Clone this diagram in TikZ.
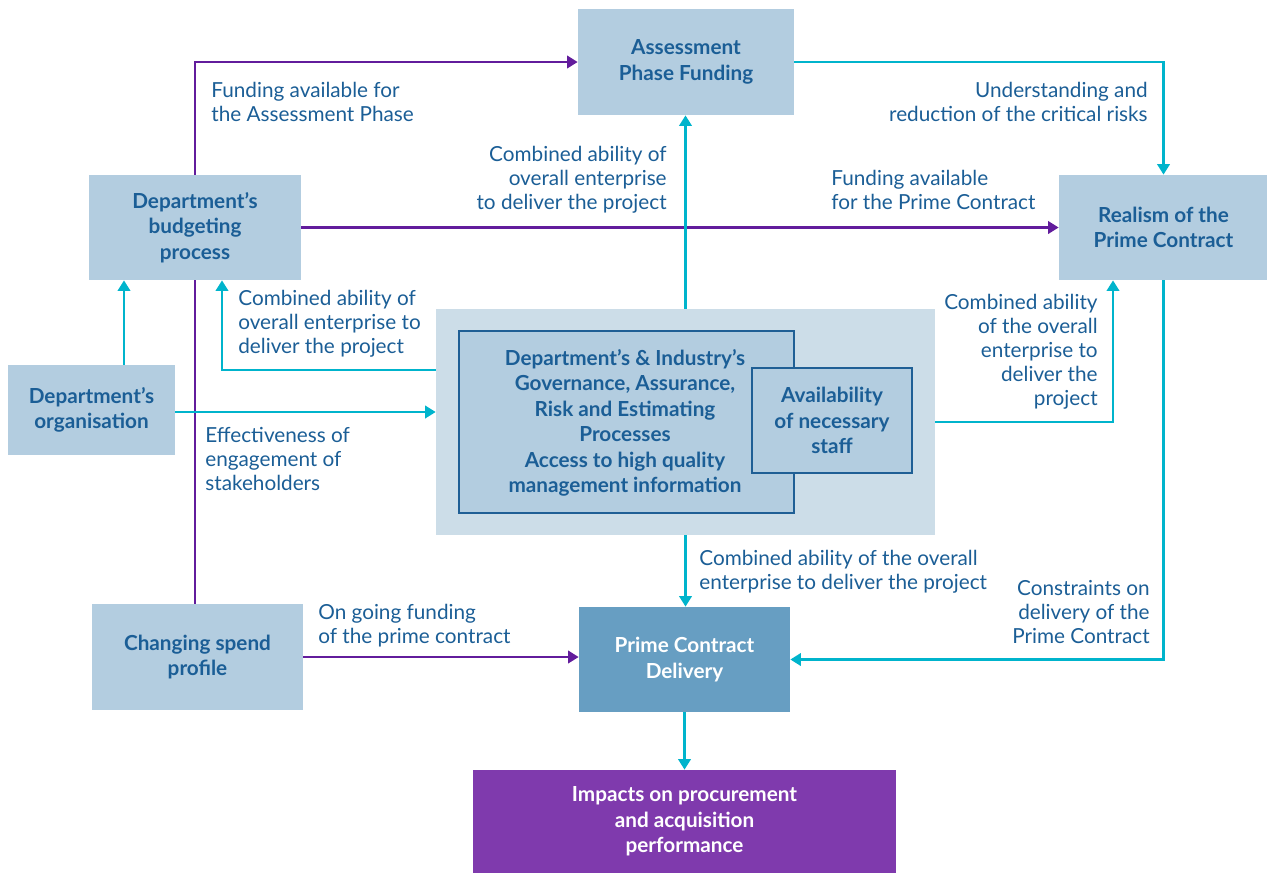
\documentclass[tikz,border=0pt]{standalone}
\usepackage{fontspec}
\setmainfont{Lato}
\usetikzlibrary{arrows.meta}
\definecolor{boxfill}{HTML}{B3CDE0}
\definecolor{panelfill}{HTML}{CCDDE8}
\definecolor{textblue}{HTML}{1B5E96}
\definecolor{edgeblue}{HTML}{1F5F95}
\definecolor{primefill}{HTML}{679EC2}
\definecolor{impfill}{HTML}{7F3AAD}
\definecolor{purpline}{HTML}{621C9C}
\definecolor{cyanline}{HTML}{00B4CC}
\tikzset{
  box/.style={fill=boxfill, draw=none, inner sep=0pt, align=center,
    text=textblue, font=\fontsize{11.8}{14.5}\selectfont\bfseries},
  framed/.style={box, draw=edgeblue, line width=0.8pt},
  lbl/.style={inner sep=0pt, text=textblue, font=\fontsize{11.8}{13.6}\selectfont},
  flowp/.style={draw=purpline, line width=1.6pt, -{Triangle[length=6pt,width=7pt]}},
  linkp/.style={draw=purpline, line width=1.6pt},
  flowc/.style={draw=cyanline, line width=1.6pt, -{Triangle[length=6pt,width=7pt]}}
}
\begin{document}
\begin{tikzpicture}[x=0.02cm,y=-0.02cm]
\useasboundingbox (0,0) rectangle (1267,873);

% boxes
\node[box, minimum width=4.32cm, minimum height=2.12cm] (asm) at (686,62)
  {Assessment\\Phase Funding};
\node[box, minimum width=4.24cm, minimum height=2.10cm] (bud) at (195,227.5)
  {Department’s\\budgeting\\process};
\node[box, minimum width=4.18cm, minimum height=2.10cm] (real) at (1163.5,227.5)
  {Realism of the\\Prime Contract};
\node[box, minimum width=3.34cm, minimum height=1.80cm] (org) at (91.5,410)
  {Department’s\\organisation};
\node[fill=panelfill, inner sep=0pt, minimum width=9.98cm, minimum height=4.52cm] (panel) at (685.5,422) {};
\node[framed, minimum width=6.70cm, minimum height=3.64cm] (gov) at (626.5,422) {};
\node[box, fill=none] (govtext) at (625,423)
  {Department’s \& Industry’s\\Governance, Assurance,\\Risk and Estimating\\Processes\\Access to high quality\\management information};
\node[framed, minimum width=3.20cm, minimum height=2.10cm] (avail) at (832,420.5)
  {Availability\\of necessary\\staff};
\node[box, minimum width=4.22cm, minimum height=2.12cm] (spend) at (197.5,657)
  {Changing spend\\profile};
\node[box, fill=primefill, text=white, minimum width=4.22cm, minimum height=2.10cm] (prime) at (684.5,659.5)
  {Prime Contract\\Delivery};
\node[box, fill=impfill, text=white, minimum width=8.46cm, minimum height=2.06cm] (imp) at (684.5,821.5)
  {Impacts on procurement\\and acquisition\\performance};

% helper points for bent connectors
\coordinate (kBud) at (222,370);
\coordinate (kOrg) at (124,412);
\coordinate (kReal) at (1113,422);

% purple funding flows
\draw[flowp] (bud.north) |- (asm.west);
\draw[flowp] (bud.east) -- (real.west);
\draw[linkp] (bud.south) -- (bud.south |- spend.north);
\draw[flowp] (spend.east) -- (spend.east -| prime.west);

% cyan influence flows
\draw[flowc] (asm.east) -| (real.north);
\draw[flowc] (panel.north) -- (panel.north |- asm.south);
\draw[flowc] (panel.west |- kBud) -| (kBud |- bud.south);
\draw[flowc] (org.east |- kOrg) -- (panel.west |- kOrg);
\draw[flowc] (org.north -| kOrg) -- (kOrg |- bud.south);
\draw[flowc] (panel.east |- kReal) -| (kReal |- real.south);
\draw[flowc] (real.south) |- (prime.east);
\draw[flowc] (panel.south) -- (panel.south |- prime.north);
\draw[flowc] (prime.south) -- (imp.north);

% connector labels
\node[lbl, anchor=north west, align=left] (l1) at (211,82) {Funding available for\\the Assessment Phase};
\node[lbl, anchor=north east, align=right] (l2) at (1148,82) {Understanding and\\reduction of the critical risks};
\node[lbl, anchor=north east, align=right] (l3) at (667,146) {Combined ability of\\overall enterprise\\to deliver the project};
\node[lbl, anchor=north west, align=left] (l4) at (831,170) {Funding available\\for the Prime Contract};
\node[lbl, anchor=north west, align=left] (l5) at (238,290) {Combined ability of\\overall enterprise to\\deliver the project};
\node[lbl, anchor=north east, align=right] (l6) at (1098,294) {Combined ability\\of the overall\\enterprise to\\deliver the\\project};
\node[lbl, anchor=north west, align=left] (l7) at (205,427) {Effectiveness of\\engagement of\\stakeholders};
\node[lbl, anchor=north west, align=left] (l8) at (699,550) {Combined ability of the overall\\enterprise to deliver the project};
\node[lbl, anchor=north west, align=left] (l9) at (318,604) {On going funding\\of the prime contract};
\node[lbl, anchor=north east, align=right] (l10) at (1150,580) {Constraints on\\delivery of the\\Prime Contract};
\end{tikzpicture}
\end{document}
